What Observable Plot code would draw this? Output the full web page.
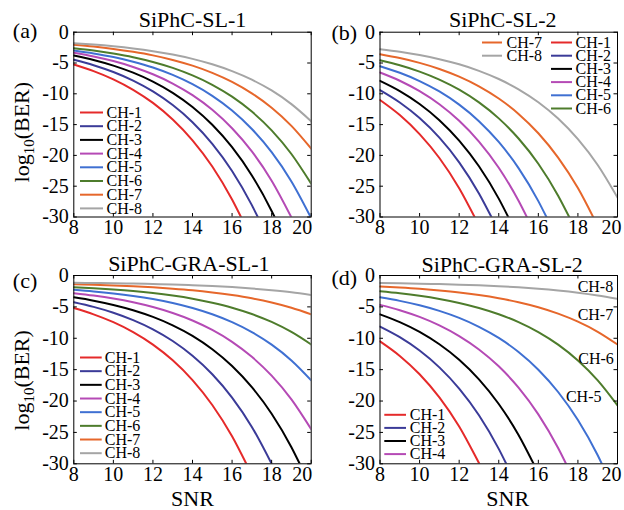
<!DOCTYPE html>
<html><head><meta charset="utf-8">
<script src="https://cdn.jsdelivr.net/npm/d3@7"></script>
<script src="https://cdn.jsdelivr.net/npm/@observablehq/plot@0.6"></script>
<style>
body{margin:0;background:#fff;}
#chart{position:relative;width:624px;height:510px;}
#chart svg{position:absolute;left:0;top:0;font-family:"Liberation Serif","Times New Roman",serif !important;}
#chart svg text{font-family:"Liberation Serif","Times New Roman",serif !important;}
</style></head><body><div id="chart"></div>
<script>
const channels = ["CH-1","CH-2","CH-3","CH-4","CH-5","CH-6","CH-7","CH-8"];
const colors = ["#e52a2a","#3b3b98","#000000","#b54ab5","#3f70d2","#4e7c2c","#e6672b","#a5a5a5"];
const snr = [8,9,10,11,12,13,14,15,16,17,18,19,20];
const xTicks = [8,10,12,14,16,18];
const xLastTick = [20];
const yTicks = [0,-5,-10,-15,-20,-25,-30];
const titles = ["SiPhC-SL-1","SiPhC-SL-2","SiPhC-GRA-SL-1","SiPhC-GRA-SL-2"];
const letters = ["(a)","(b)","(c)","(d)"];

// log10(BER) per channel at snr[0], snr[1], ... ; end* = SNR where the curve reaches -30
const berA = [
  [-5.24,-6.31,-7.65,-9.35,-11.48,-14.17,-17.55,-21.80,-27.16],
  [-4.48,-5.36,-6.47,-7.86,-9.62,-11.83,-14.61,-18.11,-22.52,-28.07],
  [-3.78,-4.51,-5.42,-6.57,-8.02,-9.84,-12.14,-15.03,-18.67,-23.25,-29.02],
  [-3.34,-3.94,-4.69,-5.64,-6.83,-8.33,-10.22,-12.59,-15.59,-19.35,-24.10],
  [-2.97,-3.45,-4.04,-4.80,-5.74,-6.94,-8.44,-10.33,-12.71,-15.71,-19.48,-24.23],
  [-2.60,-2.98,-3.47,-4.07,-4.84,-5.80,-7.02,-8.54,-10.47,-12.89,-15.93,-19.77,-24.6],
  [-2.05,-2.34,-2.71,-3.18,-3.76,-4.50,-5.43,-6.60,-8.07,-9.93,-12.26,-15.20,-18.9],
  [-1.79,-2.01,-2.29,-2.64,-3.08,-3.63,-4.33,-5.21,-6.32,-7.71,-9.46,-11.67,-14.45]
];
const endA = [16.45,17.3,18.15,18.99,19.97,null,null,null];

const berB = [
  [-11.0,-13.45,-16.54,-20.42,-25.32],
  [-9.4,-11.41,-13.94,-17.12,-21.12,-26.17],
  [-7.9,-9.56,-11.65,-14.28,-17.60,-21.77,-27.02],
  [-6.54,-7.88,-9.58,-11.70,-14.39,-17.76,-22.01,-27.36],
  [-5.52,-6.59,-7.93,-9.62,-11.76,-14.44,-17.82,-22.07,-27.42],
  [-4.55,-5.37,-6.40,-7.70,-9.34,-11.40,-13.99,-17.26,-21.36,-26.54],
  [-3.57,-4.20,-4.98,-5.97,-7.22,-8.79,-10.77,-13.26,-16.40,-20.35,-25.31],
  [-2.76,-3.18,-3.71,-4.38,-5.21,-6.27,-7.60,-9.27,-11.37,-14.02,-17.36,-21.56,-26.85]
];
const endB = [12.78,13.63,14.48,15.42,16.41,17.56,18.77,null];

const berC = [
  [-5.19,-6.19,-7.44,-9.02,-11.01,-13.51,-16.66,-20.63,-25.62],
  [-4.26,-5.00,-5.93,-7.11,-8.58,-10.44,-12.79,-15.73,-19.45,-24.12],
  [-3.48,-4.01,-4.69,-5.53,-6.60,-7.94,-9.62,-11.75,-14.42,-17.79,-22.03,-27.36],
  [-2.82,-3.20,-3.67,-4.27,-5.03,-5.98,-7.17,-8.68,-10.57,-12.96,-15.96,-19.74,-24.5],
  [-2.28,-2.53,-2.85,-3.25,-3.75,-4.38,-5.18,-6.18,-7.44,-9.02,-11.02,-13.53,-16.7],
  [-1.87,-2.03,-2.23,-2.48,-2.80,-3.20,-3.70,-4.34,-5.13,-6.14,-7.40,-9.00,-11.0],
  [-1.40,-1.48,-1.59,-1.72,-1.89,-2.10,-2.36,-2.70,-3.12,-3.64,-4.31,-5.15,-6.2],
  [-1.16,-1.19,-1.24,-1.29,-1.36,-1.44,-1.55,-1.68,-1.85,-2.07,-2.34,-2.67,-3.1]
];
const endC = [16.72,18.0,19.42,null,null,null,null,null];

const berD = [
  [-10.5,-12.82,-15.74,-19.42,-24.05,-29.88],
  [-8.14,-9.83,-11.96,-14.64,-18.02,-22.27,-27.62],
  [-6.19,-7.43,-8.99,-10.96,-13.43,-16.55,-20.47,-25.41],
  [-4.68,-5.53,-6.60,-7.95,-9.65,-11.78,-14.47,-17.86,-22.12,-27.49],
  [-3.48,-4.04,-4.75,-5.64,-6.76,-8.18,-9.95,-12.19,-15.01,-18.56,-23.02,-28.64],
  [-2.52,-2.84,-3.24,-3.74,-4.37,-5.17,-6.17,-7.43,-9.02,-11.02,-13.54,-16.71,-20.7],
  [-1.76,-1.92,-2.12,-2.38,-2.70,-3.11,-3.62,-4.26,-5.06,-6.08,-7.36,-8.97,-11.0],
  [-1.20,-1.24,-1.30,-1.37,-1.46,-1.57,-1.71,-1.88,-2.10,-2.38,-2.73,-3.17,-3.72]
];
const endD = [13.02,14.38,15.76,17.4,19.21,null,null,null];

// channels labelled directly on the curves in panel (d)
const labelsD = [7,6,5,4];

const FONT = "Liberation Serif";

const panels = [
  {ber: berA, end: endA, frame: {l:73.3,t:31.7,r:310.7,b:216.5}, title: 0, titleDx: 0, titleDy: -5,
   letterDx: -61, letterDy: 6, ylabel: true, ylabelDy: 7.6, xlabel: false, lastDx: -9,
   legend: [{rows:[0,1,2,3,4,5,6,7], line:[6.7,29.7], text:32.7}], legTop: 80.3, legStep: 13.7},
  {ber: berB, end: endB, frame: {l:379.5,t:31.7,r:617,b:216.5}, title: 1, titleDx: 4, titleDy: -5,
   letterDx: -48.5, letterDy: 7.6, ylabel: false, xlabel: false, lastDx: -6,
   legend: [{rows:[6,7], line:[102.5,122.5], text:126.5},{rows:[0,1,2,3,4,5], line:[171.5,192.5], text:195.5}], legTop: 10.3, legStep: 13.2},
  {ber: berC, end: endC, frame: {l:73.3,t:275,r:310.7,b:463.3}, title: 2, titleDx: -3.7, titleDy: -4.5,
   letterDx: -61, letterDy: 12.7, ylabel: true, ylabelDy: 10.8, xlabel: true, xlabelDx: 0, lastDx: -9,
   legend: [{rows:[0,1,2,3,4,5,6,7], line:[6.7,28.4], text:31}], legTop: 82, legStep: 13.67},
  {ber: berD, end: endD, frame: {l:379.5,t:275,r:617,b:463.3}, title: 3, titleDx: 3.4, titleDy: -4,
   letterDx: -48.5, letterDy: 9.3, ylabel: false, xlabel: true, xlabelDx: 9, lastDx: -6,
   legend: [{rows:[0,1,2,3], line:[4.8,26.5], text:29.8}], legTop: 139.3, legStep: 13.1,
   notes: [{px: 233.2, py: 11}, {px: 233.2, py: 39.3}, {px: 233.8, py: 83.3}, {px: 221.5, py: 121}]}
];

const root = document.getElementById("chart");

panels.forEach(cfg => {
  const {l, t, r, b} = cfg.frame;
  const W = r - l, H = b - t;
  const px2x = o => 8 + o / W * 12;
  const px2y = o => -o / H * 30;

  const pts = [];
  cfg.ber.forEach((vals, i) => {
    vals.forEach((v, j) => pts.push({ch: channels[i], x: snr[j], y: v}));
    if (cfg.end[i] != null) pts.push({ch: channels[i], x: cfg.end[i], y: -30});
  });

  const leg = cfg.legend.flatMap(col => col.rows.map((ci, k) => ({
    ch: channels[ci], x1: px2x(col.line[0]), x2: px2x(col.line[1]), xt: px2x(col.text),
    y: px2y(cfg.legTop + k * cfg.legStep)
  })));

  const allX = xTicks.concat(xLastTick);
  const marks = [
    Plot.line(pts, {x: "x", y: "y", z: "ch", stroke: "ch", strokeWidth: 2, curve: "monotone-x", clip: true}),
    Plot.ruleY(leg, {y: "y", x1: "x1", x2: "x2", stroke: "ch", strokeWidth: 2}),
    Plot.text(leg, {x: "xt", y: "y", text: "ch", textAnchor: "start", fontSize: 16, fontFamily: FONT, fill: "black"}),
    Plot.frame({stroke: "black", strokeWidth: 1}),
    Plot.tickX(allX, {x: d => d, insetTop: H - 3.5, stroke: "black"}),
    Plot.tickX(allX, {x: d => d, insetBottom: H - 3.5, stroke: "black"}),
    Plot.tickY(yTicks, {y: d => d, insetRight: W - 3.5, stroke: "black"}),
    Plot.tickY(yTicks, {y: d => d, insetLeft: W - 3.5, stroke: "black"}),
    Plot.axisX({ticks: xTicks, tickSize: 0, tickPadding: 3, fontSize: 20, fontFamily: FONT, tickFormat: d => String(d), label: null}),
    Plot.axisX({ticks: xLastTick, tickSize: 0, tickPadding: 3, fontSize: 20, fontFamily: FONT, dx: cfg.lastDx, tickFormat: d => String(d), label: null}),
    Plot.axisY({ticks: yTicks, tickSize: 0, tickPadding: 5, fontSize: 20, fontFamily: FONT, tickFormat: d => String(d), label: null}),
    Plot.text([titles[cfg.title]], {frameAnchor: "top", textAnchor: "middle", lineAnchor: "bottom", dx: cfg.titleDx, dy: cfg.titleDy, fontSize: 22, fontFamily: FONT, fill: "black"}),
    Plot.text([letters[cfg.title]], {frameAnchor: "top-left", textAnchor: "start", lineAnchor: "bottom", dx: cfg.letterDx, dy: cfg.letterDy, fontSize: 22, fontFamily: FONT, fill: "black"})
  ];
  if (cfg.ylabel) marks.push(Plot.text(["log10(BER)"], {frameAnchor: "left", textAnchor: "middle", rotate: -90, lineAnchor: "bottom", dx: -(l - 28.5), dy: cfg.ylabelDy, fontSize: 22, fontFamily: FONT, fill: "black"}));
  if (cfg.xlabel) marks.push(Plot.text(["SNR"], {frameAnchor: "bottom", textAnchor: "middle", lineAnchor: "bottom", dx: cfg.xlabelDx, dy: 41.7, fontSize: 22, fontFamily: FONT, fill: "black"}));
  if (cfg.notes) {
    const notes = labelsD.map((ci, k) => ({ch: channels[ci], x: px2x(cfg.notes[k].px), y: px2y(cfg.notes[k].py)}));
    marks.push(Plot.text(notes, {x: "x", y: "y", text: "ch", textAnchor: "end", fontSize: 16, fontFamily: FONT, fill: "black"}));
  }

  const svg = Plot.plot({
    width: 624, height: 510,
    marginLeft: l, marginRight: 624 - r, marginTop: t, marginBottom: 510 - b,
    style: {background: "transparent", overflow: "visible"},
    x: {domain: [8, 20]},
    y: {domain: [-30, 0]},
    color: {domain: channels, range: colors},
    marks
  });
  svg.setAttribute("font-family", "Liberation Serif, serif");

  d3.select(svg).selectAll("text")
    .filter(function() { return this.textContent === "log10(BER)"; })
    .each(function() {
      const el = d3.select(this);
      el.text(null);
      el.append("tspan").text("log");
      el.append("tspan").attr("dy", 5).attr("font-size", 15).text("10");
      el.append("tspan").attr("dy", -5).text("(BER)");
    });

  root.appendChild(svg);
});
</script></body></html>
